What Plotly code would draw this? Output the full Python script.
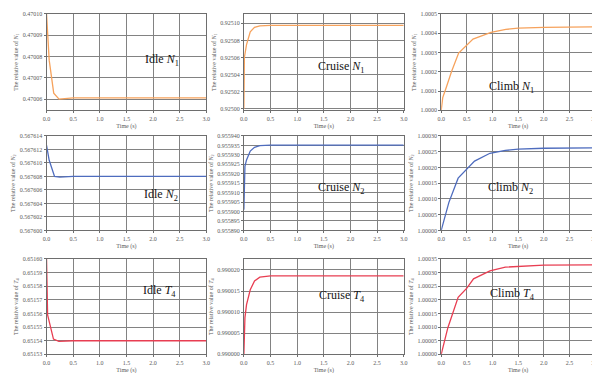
import plotly.graph_objects as go

# ---- data ----
t_idle_n1 = [0.0, 0.05, 0.135, 0.235, 0.5, 1.0, 2.0, 3.0]
v_idle_n1 = [0.47010, 0.4700783, 0.4700628, 0.4700600, 0.4700606, 0.4700606, 0.4700606, 0.4700606]

t_cruise_n1 = [0.0, 0.01, 0.05, 0.12, 0.2, 0.3, 0.5, 1.0, 2.0, 3.0]
v_cruise_n1 = [0.925000, 0.925060, 0.925075, 0.925090, 0.9250954, 0.925097, 0.9250977, 0.9250977, 0.9250977, 0.9250977]

t_climb_n1 = [0.0, 0.03, 0.1, 0.2, 0.34, 0.5, 0.62, 0.97, 1.26, 1.5, 2.0, 3.0]
v_climb_n1 = [1.0, 1.000066, 1.00012, 1.0002, 1.000297, 1.00034, 1.00037, 1.000405, 1.00042, 1.000426, 1.00043, 1.000433]

t_idle_n2 = [0.0, 0.02, 0.05, 0.15, 0.25, 0.5, 1.0, 2.0, 3.0]
v_idle_n2 = [0.5676126, 0.5676119, 0.5676104, 0.5676080, 0.5676079, 0.5676080, 0.5676080, 0.5676080, 0.5676080]

t_cruise_n2 = [0.0, 0.02, 0.05, 0.12, 0.2, 0.3, 0.5, 1.0, 2.0, 3.0]
v_cruise_n2 = [0.955901, 0.9559239, 0.9559273, 0.955932, 0.955934, 0.9559349, 0.9559351, 0.9559351, 0.9559351, 0.9559351]

t_climb_n2 = [0.0, 0.15, 0.33, 0.5, 0.65, 0.95, 1.25, 1.5, 2.0, 3.0]
v_climb_n2 = [1.0, 1.000089, 1.000166, 1.000195, 1.00022, 1.000245, 1.000254, 1.000258, 1.000261, 1.000262]

t_idle_t4 = [0.0, 0.02, 0.13, 0.23, 0.5, 1.0, 2.0, 3.0]
v_idle_t4 = [0.65160, 0.651559, 0.6515412, 0.6515395, 0.65154, 0.65154, 0.65154, 0.65154]

t_cruise_t4 = [0.0, 0.02, 0.05, 0.12, 0.2, 0.3, 0.5, 1.0, 2.0, 3.0]
v_cruise_t4 = [0.990000, 0.9900087, 0.9900118, 0.9900153, 0.9900174, 0.9900183, 0.9900186, 0.9900186, 0.9900186, 0.9900186]

t_climb_t4 = [0.0, 0.13, 0.33, 0.5, 0.63, 0.95, 1.25, 1.5, 2.0, 3.0]
v_climb_t4 = [1.0, 1.000098, 1.000209, 1.000243, 1.000277, 1.000306, 1.00032, 1.000323, 1.000327, 1.000328]

x_ticks = [0.0, 0.5, 1.0, 1.5, 2.0, 2.5, 3.0]

panel_labels = ["Idle <i>N</i><sub>1</sub>", "Cruise <i>N</i><sub>1</sub>", "Climb <i>N</i><sub>1</sub>",
                "Idle <i>N</i><sub>2</sub>", "Cruise <i>N</i><sub>2</sub>", "Climb <i>N</i><sub>2</sub>",
                "Idle <i>T</i><sub>4</sub>", "Cruise <i>T</i><sub>4</sub>", "Climb <i>T</i><sub>4</sub>"]
y_titles = ["The relative value of <i>N</i><sub>1</sub>"] * 3 + \
           ["The relative value of <i>N</i><sub>2</sub>"] * 3 + \
           ["The relative value of <i>T</i><sub>4</sub>"] * 3

# ---- styling ----
ORANGE = "rgb(246,162,92)"
BLUE = "rgb(78,108,190)"
RED = "rgb(232,62,82)"
colors = [ORANGE] * 3 + [BLUE] * 3 + [RED] * 3

series = [(t_idle_n1, v_idle_n1), (t_cruise_n1, v_cruise_n1), (t_climb_n1, v_climb_n1),
          (t_idle_n2, v_idle_n2), (t_cruise_n2, v_cruise_n2), (t_climb_n2, v_climb_n2),
          (t_idle_t4, v_idle_t4), (t_cruise_t4, v_cruise_t4), (t_climb_t4, v_climb_t4)]

y_ranges = [(0.4700547, 0.47010), (0.924998, 0.925111), (1.0, 1.0005),
            (0.5676, 0.567614), (0.95589, 0.95594), (1.0, 1.0003),
            (0.65153, 0.65160), (0.99, 0.9900226), (1.0, 1.00035)]
y_dtick = [1e-5, 2e-5, 1e-4, 2e-6, 5e-6, 5e-5, 1e-5, 5e-6, 5e-5]
y_tick0 = [0.47006, 0.92500, 1.0, 0.5676, 0.95589, 1.0, 0.65153, 0.99, 1.0]
y_fmt = [".5f", ".5f", ".4f", ".6f", ".6f", ".5f", ".5f", ".6f", ".5f"]

W, H = 600, 373
col_px = [(35, 197), (235, 397), (435, 591)]
row_px = [(3, 101), (127, 223), (252, 349)]
label_px = [(133, 40), (334, 47), (531, 67),
            (132, 187), (334, 180), (530, 180),
            (131, 295), (334, 300), (532, 298)]

fig = go.Figure()
serif = "Liberation Serif"
TXT = "rgb(90,90,90)"
for i in range(9):
    r, c = divmod(i, 3)
    n = i + 1
    xa = "x" if n == 1 else f"x{n}"
    ya = "y" if n == 1 else f"y{n}"
    t, v = series[i]
    fig.add_trace(go.Scatter(x=t, y=v, mode="lines", line=dict(color=colors[i], width=1.3),
                             xaxis=xa, yaxis=ya, showlegend=False))
    x0, x1 = col_px[c]
    y0, y1 = row_px[r]
    xkey = "xaxis" if n == 1 else f"xaxis{n}"
    ykey = "yaxis" if n == 1 else f"yaxis{n}"
    fig.layout[xkey] = dict(
        domain=[x0 / W, x1 / W], anchor=ya, range=[0, 3], tickvals=x_ticks,
        tickformat=".1f", showgrid=True, gridcolor="rgb(130,130,130)", gridwidth=1,
        showline=True, linecolor="rgb(110,110,110)", linewidth=1, mirror=True,
        ticks="outside", ticklen=2, tickcolor="rgb(110,110,110)",
        tickfont=dict(family=serif, size=6, color=TXT),
        title=dict(text="Time (s)", font=dict(family=serif, size=6, color=TXT), standoff=3),
        zeroline=False)
    fig.layout[ykey] = dict(
        domain=[1 - y1 / H, 1 - y0 / H], anchor=xa, range=list(y_ranges[i]),
        tick0=y_tick0[i], dtick=y_dtick[i], tickformat=y_fmt[i],
        showgrid=True, gridcolor="rgb(130,130,130)", gridwidth=1,
        showline=True, linecolor="rgb(110,110,110)", linewidth=1, mirror=True,
        ticks="outside", ticklen=2, tickcolor="rgb(110,110,110)",
        tickfont=dict(family=serif, size=6, color=TXT),
        title=dict(text=y_titles[i], font=dict(family=serif, size=6, color=TXT), standoff=3),
        zeroline=False)
    lx, ly = label_px[i]
    fig.add_annotation(text=panel_labels[i], xref="paper", yref="paper",
                       x=lx / W, y=1 - ly / H, showarrow=False,
                       font=dict(family=serif, size=12, color="rgb(20,20,20)"))

fig.update_layout(width=W, height=H, margin=dict(l=0, r=0, t=0, b=0),
                  paper_bgcolor="white", plot_bgcolor="white")
fig.write_html("out.html")
